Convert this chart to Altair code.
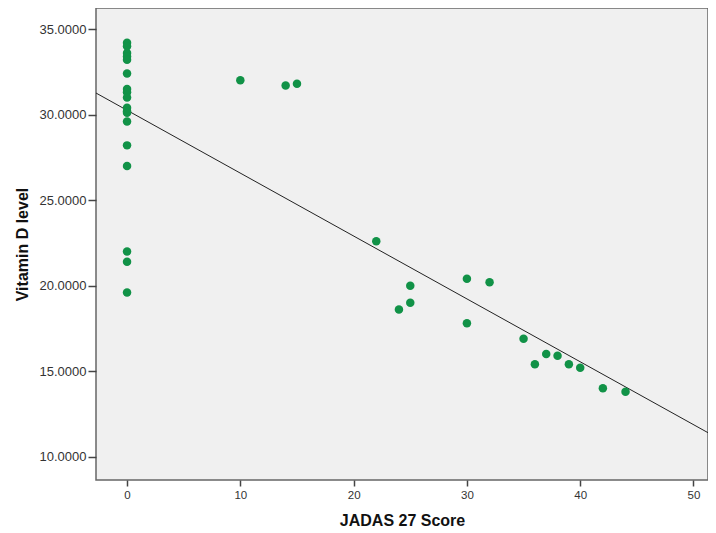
import altair as alt
import pandas as pd

# JADAS 27 score (x) and Vitamin D level (y)
jadas = [0, 0, 0, 0, 0, 0, 0, 0, 0, 0, 0, 0, 0, 0, 0, 0, 0, 0,
         10, 14, 15, 22, 24, 25, 25, 30, 30, 32,
         35, 36, 37, 38, 39, 40, 42, 44]
vitd = [34.2, 34.0, 33.6, 33.4, 33.2, 32.4, 31.5, 31.3, 31.0, 30.4, 30.2, 30.1,
        29.6, 28.2, 27.0, 22.0, 21.4, 19.6,
        32.0, 31.7, 31.8, 22.6, 18.6, 20.0, 19.0, 20.4, 17.8, 20.2,
        16.9, 15.4, 16.0, 15.9, 15.4, 15.2, 14.0, 13.8]

# fit line end points
fit_x = [-2.74, 52.0]
fit_y = [31.26, 11.14]

x_ticks = [0, 10, 20, 30, 40, 50]
y_ticks = [10, 15, 20, 25, 30, 35]

pts = pd.DataFrame({"x": jadas, "y": vitd})
fit = pd.DataFrame({"x": fit_x, "y": fit_y})

xscale = alt.Scale(domain=[-2.74, 51.28], nice=False, zero=False)
yscale = alt.Scale(domain=[8.64, 36.23], nice=False, zero=False)

xaxis = alt.Axis(values=x_ticks, title="JADAS 27 Score", grid=False, domain=False,
                 tickSize=6, tickColor="#444", tickWidth=1.5, labelPadding=3,
                 labelFont="Liberation Sans", labelFontSize=11.5, labelColor="#333",
                 titleFont="Liberation Sans", titleFontSize=16, titleFontWeight="bold",
                 titleColor="#111", titlePadding=12)
yaxis = alt.Axis(values=y_ticks, format=".4f", title="Vitamin D level", grid=False,
                 domain=False, tickSize=8, tickColor="#444", tickWidth=1.5, labelPadding=2,
                 labelFont="Liberation Sans", labelFontSize=13, labelColor="#333",
                 titleFont="Liberation Sans", titleFontSize=16, titleFontWeight="bold",
                 titleColor="#111", titlePadding=9)

points = alt.Chart(pts).mark_circle(size=72, color="#119247", opacity=1).encode(
    x=alt.X("x:Q", scale=xscale, axis=xaxis),
    y=alt.Y("y:Q", scale=yscale, axis=yaxis),
)

line = alt.Chart(fit).mark_line(color="#222", strokeWidth=1, clip=True).encode(
    x=alt.X("x:Q", scale=xscale),
    y=alt.Y("y:Q", scale=yscale),
)

chart = (line + points).properties(
    width=612, height=472,
    autosize=alt.AutoSizeParams(type="none"),
    padding={"left": 88, "top": 0, "right": 0, "bottom": 52},
    background="white",
).configure_view(fill="#f0f0f0", stroke="#666", strokeWidth=1.5)

chart.save("out.html", embed_options={"renderer": "svg", "actions": False})
